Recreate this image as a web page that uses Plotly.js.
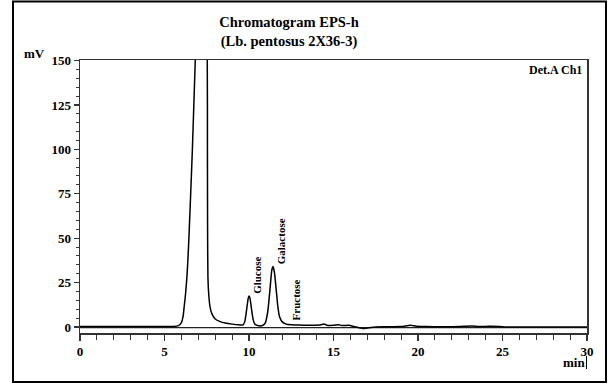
<!DOCTYPE html>
<html>
<head>
<meta charset="utf-8">
<script src="https://cdn.plot.ly/plotly-3.0.1.min.js"></script>
<style>
html,body{margin:0;padding:0;background:#fff;}
#chart{width:614px;height:385px;}
</style>
</head>
<body>
<div id="chart"></div>
<script>
// Retention time (min) and detector signal (mV)
const timeMin = [0,1,2,3,4,5,5.5,5.8,6.0,6.1,6.16,6.25,6.34,6.43,6.52,6.65,6.82,6.95,7.1,7.3,7.45,7.53,7.54,7.55,7.57,7.62,7.7,7.8,8.0,8.3,8.6,9.0,9.4,9.65,9.75,9.85,9.95,10.0,10.05,10.15,10.25,10.35,10.5,10.8,10.95,11.1,11.25,11.35,11.42,11.5,11.6,11.7,11.8,11.95,12.2,12.5,12.8,13.2,13.8,14.2,14.45,14.6,15.0,15.3,15.5,15.9,16.2,16.6,16.85,17.1,17.5,18.0,19.0,19.55,19.9,20.5,21.5,22.5,23.2,23.6,24.2,24.8,25.2,26,28,30];
const signalMV = [0.3,0.3,0.3,0.2,0.2,0.2,0.3,0.6,2.5,6,11,19,30,47,68,100,150,185,205,200,175,150,100,55,28,18,11,7.5,4.5,3,2.2,1.6,1.2,1.2,3,9,16,17.5,16.5,10,4,1.5,0.8,0.8,2,8,22,32,34,31,22,12,6,3,1.6,1.2,1.1,1.0,1.0,1.1,1.7,1.0,0.9,1.3,0.8,0.9,0.3,-0.6,-0.9,-0.5,0,0.1,0.2,0.9,0.4,0.2,0.1,0.3,0.5,0.2,0.4,0.3,0,0,0,0];

// Integration baseline
const baselineTime = [0, 30];
const baselineMV = [-0.4, -0.4];

// Peak labels
const peakNames = ["Glucose", "Galactose", "Fructose"];
const peakLabelTime = [10.47, 11.86, 12.75];
const peakLabelMV = [29.3, 48.5, 15.2];

// Axis ticks
const xTickVals = [0, 5, 10, 15, 20, 25, 30];
const xTickText = ["0", "5", "10", "15", "20", "25", "30"];
const yTickVals = [0, 25, 50, 75, 100, 125, 150];
const yTickText = ["0", "25", "50", "75", "100", "125", "150"];

const serif = "'Liberation Serif', 'Times New Roman', Times, serif";

const traces = [
  {x: baselineTime, y: baselineMV, type: "scatter", mode: "lines",
   line: {color: "#222", width: 1.2}, hoverinfo: "skip", showlegend: false},
  {x: timeMin, y: signalMV, type: "scatter", mode: "lines",
   line: {color: "#000", width: 1.5, shape: "spline", smoothing: 0.6}, showlegend: false}
];

const annotations = peakNames.map((n, i) => ({
  x: peakLabelTime[i], y: peakLabelMV[i], xref: "x", yref: "y",
  text: "<b>" + n + "</b>", showarrow: false, textangle: -90,
  font: {family: serif, size: 11, color: "#000"}
}));
annotations.push(
  {x: 0, y: 1, xref: "paper", yref: "paper", xanchor: "center", yanchor: "middle",
   text: "<b>mV</b>", showarrow: false, xshift: -46, yshift: 7,
   font: {family: serif, size: 13, color: "#000"}},
  {x: 1, y: 0.995, xref: "paper", yref: "paper", xanchor: "right", yanchor: "top",
   text: "<b>Det.A Ch1</b>", showarrow: false, xshift: -3,
   font: {family: serif, size: 12, color: "#000"}},
  {x: 1, y: 0, xref: "paper", yref: "paper", xanchor: "right", yanchor: "top",
   text: "<b>min</b>", showarrow: false, yshift: -20, xshift: 0,
   font: {family: serif, size: 13, color: "#000"}}
);

const W = 614, H = 385, L = 80, R = 27, T = 60, B = 52;
const pw = W - L - R, ph = H - T - B;
const px = v => (v - L) / pw;
const py = v => (H - B - v) / ph;

const layout = {
  width: W, height: H,
  margin: {l: L, r: R, t: T, b: B},
  paper_bgcolor: "#fff", plot_bgcolor: "#fff",
  title: {text: "<b>Chromatogram EPS-h<br>(Lb. pentosus 2X36-3)</b>",
          x: 289 / W, xanchor: "center", y: 1 - 27 / H, yanchor: "middle",
          font: {family: serif, size: 14.5, color: "#000"}},
  xaxis: {range: [0, 30], showgrid: false, zeroline: false, showline: true, mirror: true,
          linecolor: "#333", linewidth: 1.5,
          tickmode: "array", tickvals: xTickVals, ticktext: xTickText,
          ticks: "outside", ticklen: 6, tickwidth: 1.2, tickcolor: "#333",
          minor: {dtick: 1, ticks: "outside", ticklen: 5, tickwidth: 1, tickcolor: "#333"},
          tickfont: {family: serif, size: 13, color: "#000", weight: "bold"}, fixedrange: true},
  yaxis: {range: [-3.4, 150.3], showgrid: false, zeroline: false, showline: true, mirror: true,
          linecolor: "#333", linewidth: 1.5,
          tickmode: "array", tickvals: yTickVals, ticktext: yTickText,
          ticks: "outside", ticklen: 5, tickwidth: 1.2, tickcolor: "#333",
          minor: {dtick: 5, ticks: "outside", ticklen: 3, tickwidth: 1, tickcolor: "#333"},
          tickfont: {family: serif, size: 13, color: "#000", weight: "bold"}, fixedrange: true},
  annotations: annotations,
  shapes: [
    {type: "rect", xref: "paper", yref: "paper",
     x0: px(13), x1: px(606), y0: py(382), y1: py(1.5),
     line: {color: "#000", width: 2}, fillcolor: "rgba(0,0,0,0)", layer: "below"},
    {type: "line", xref: "paper", yref: "paper",
     x0: px(586.5), x1: px(586.5), y0: py(356), y1: py(369),
     line: {color: "#000", width: 1}}
  ],
  showlegend: false
};

Plotly.newPlot("chart", traces, layout, {staticPlot: true, displayModeBar: false});
</script>
</body>
</html>
